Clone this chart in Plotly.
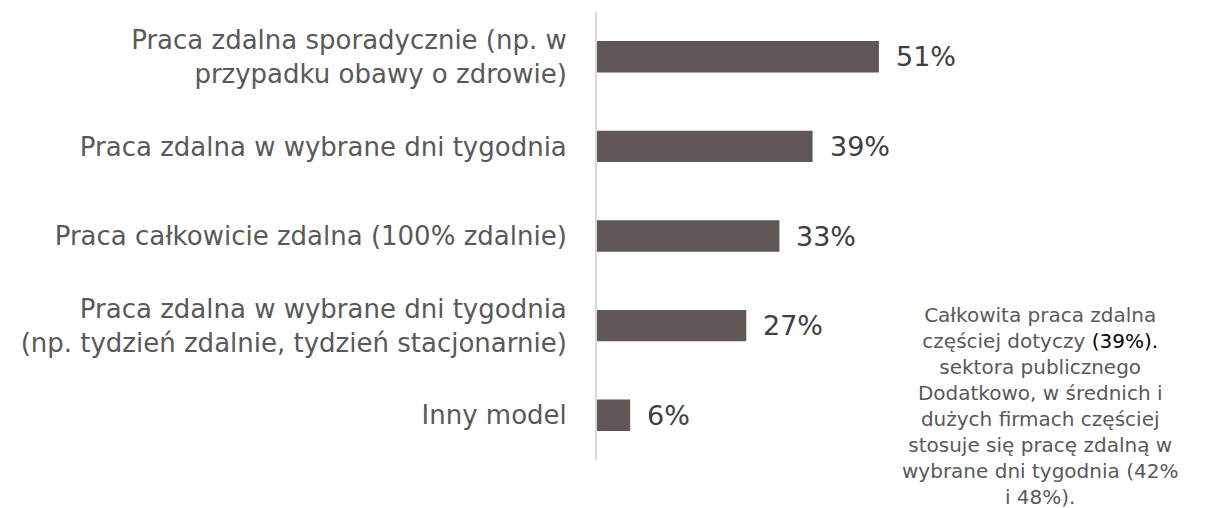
import plotly.graph_objects as go

categories = [
    "Praca zdalna sporadycznie (np. w<br>przypadku obawy o zdrowie)",
    "Praca zdalna w wybrane dni tygodnia",
    "Praca całkowicie zdalna (100% zdalnie)",
    "Praca zdalna w wybrane dni tygodnia<br>(np. tydzień zdalnie, tydzień stacjonarnie)",
    "Inny model",
]
values = [51, 39, 33, 27, 6]
value_labels = ["51%", "39%", "33%", "27%", "6%"]

note = ("Całkowita praca zdalna<br>częściej dotyczy <span style='color:#000000'>(39%).</span><br>"
        "sektora publicznego<br>Dodatkowo, w średnich i<br>dużych firmach częściej<br>"
        "stosuje się pracę zdalną w<br>wybrane dni tygodnia (42%<br>i 48%).")

FONT = "DejaVu Sans"

fig = go.Figure(go.Bar(
    x=values, y=categories, orientation="h",
    marker=dict(color="#605757", line=dict(width=0)),
    width=0.35, hoverinfo="skip",
))

for v, c, t in zip(values, categories, value_labels):
    fig.add_annotation(x=v, y=c, text=t, showarrow=False, xanchor="left",
                       xshift=15, font=dict(family=FONT, size=27, color="#404040"))

# plot area in figure coords: x 589..1191 (602 px), y 4..452 (448 px)
fig.add_annotation(xref="paper", yref="paper", x=(1032 - 589) / 602, y=(452 - 398) / 448,
                   text=note, showarrow=False, xanchor="center", yanchor="middle",
                   align="center", font=dict(family=FONT, size=20, color="#595959"))

fig.update_layout(
    width=1209, height=508,
    margin=dict(l=589, r=18, t=4, b=56),
    paper_bgcolor="white", plot_bgcolor="white",
    showlegend=False,
    xaxis=dict(range=[0, 108.9], visible=False, fixedrange=True),
    yaxis=dict(autorange="reversed", showline=True, linecolor="#d9d9d9", linewidth=2,
               ticks="", ticklabelstandoff=23, showgrid=False, fixedrange=True,
               tickfont=dict(family=FONT, size=26, color="#595959")),
)

fig.write_html("out.html")
